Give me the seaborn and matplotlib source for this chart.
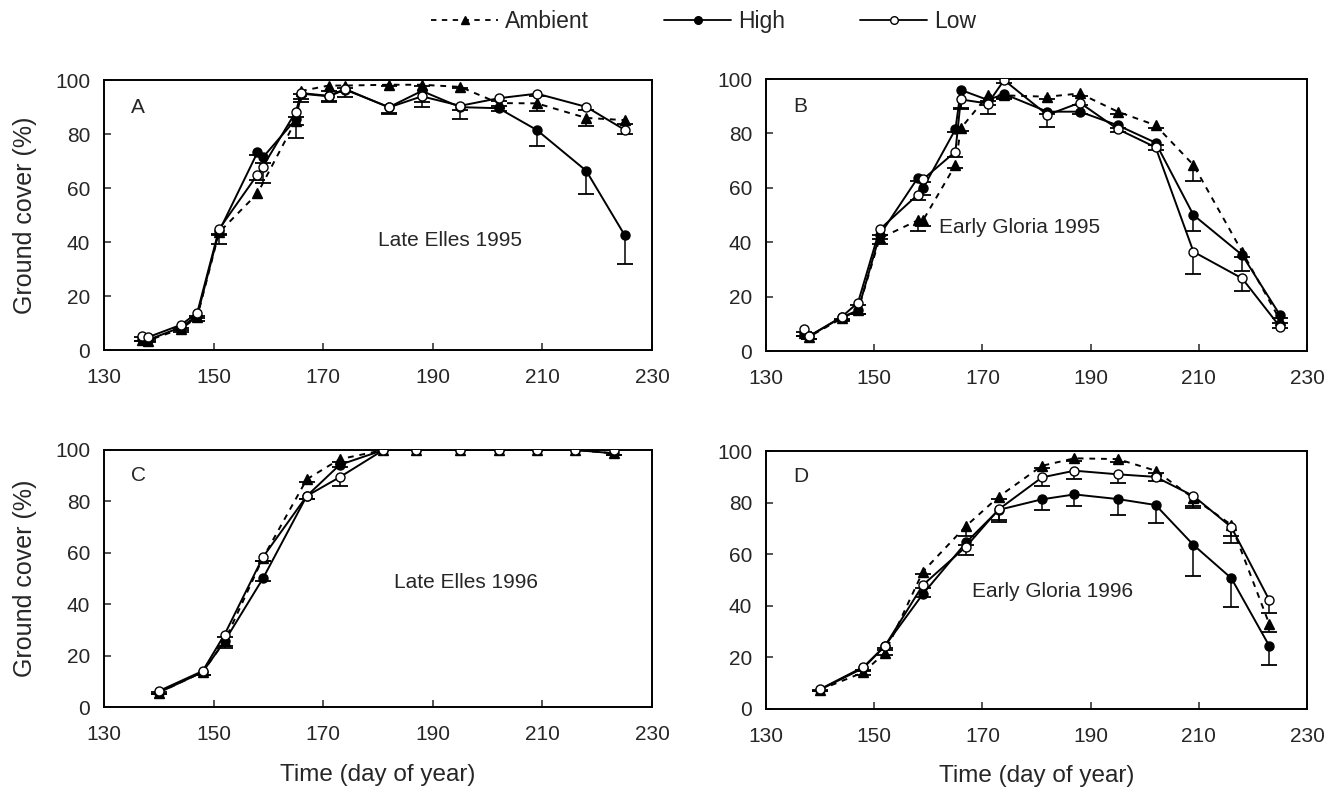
import numpy as np
import pandas as pd
import seaborn as sns
import matplotlib.pyplot as plt
from matplotlib.lines import Line2D

sns.set_style("ticks")
plt.rcParams["font.family"] = ["Liberation Sans", "DejaVu Sans"]

# ---- data ----
days95 = [137, 138, 144, 147, 151, 158, 159, 165, 166, 171, 174, 182, 188, 195, 202, 209, 218, 225]
days95_amb_A = [137, 138, 144, 147, 151, 158, 165, 166, 171, 174, 182, 188, 195, 202, 209, 218, 225]
days96 = [140, 148, 152, 159, 167, 173, 181, 187, 195, 202, 209, 216, 223]

# A: Late Elles 1995
amb_A = [3.7, 3.5, 7.8, 12.1, 43.6, 58, 85, 96, 98, 98, 98.3, 98.3, 97.5, 91.5, 91.4, 86, 85.2]
amb_A_err = [0.5, 0.5, 1, 1.5, 4.5, 0, 6.6, 1, 2, 1, 0.5, 0.5, 0.5, 1, 3, 3, 1.5]
high_A = [4, 3.7, 8.4, 12.7, 44, 73.2, 71.4, 85.5, 95, 94, 96.5, 90, 96, 90, 89.6, 81.5, 66.4, 42.6]
high_A_err = [0.5, 0.5, 1, 1, 1, 1, 2, 2, 3, 2, 1, 2, 6, 1, 1, 6, 8.6, 10.7]
low_A = [5.3, 4.7, 9.3, 13.7, 44.8, 65, 68, 88.3, 95.2, 94.2, 96.7, 89.9, 94, 90.5, 93.3, 95, 90.1, 81.6]
low_A_err = [0.5, 0.5, 1, 1, 2, 2, 6, 2, 2, 2, 3, 2.5, 2, 5, 1, 1, 1, 1.6]

# B: Early Gloria 1995
amb_B = [6.7, 5.3, 12, 15, 41.4, 48, 48, 68.4, 81.9, 94, 94, 93.5, 94.7, 88, 83, 68.4, 36.5, 11.4]
amb_B_err = [1, 1, 1, 1.5, 2, 4, 2, 1, 1, 2, 1, 1, 1, 1, 1, 6, 2, 1]
high_B = [6.7, 5.5, 12.4, 15, 42.6, 63.5, 59.8, 81.5, 96, 92.3, 94.5, 88, 88, 83, 76.6, 50, 35.3, 13.2]
high_B_err = [1, 1, 1, 1.5, 1.5, 1, 2.5, 1, 7, 2, 2, 1, 1, 1, 1, 5.8, 6, 1]
low_B = [8, 5.5, 12.6, 17.8, 44.7, 57.4, 63.1, 73.3, 92.5, 91, 99.6, 86.8, 91.3, 81.6, 74.9, 36.5, 26.7, 8.9]
low_B_err = [1, 1, 1, 1, 2, 2, 1, 2, 3, 4, 1, 4.3, 1, 1, 1, 8.3, 4.5, 0.5]

# C: Late Elles 1996
amb_C = [5.6, 13.6, 25.6, 58, 88.6, 96.4, 100, 100, 100, 100, 100, 100, 98.7]
amb_C_err = [0.5, 1, 2, 1, 1, 1, 0, 0, 0, 0, 0, 0, 0.5]
high_C = [5.6, 13.6, 25.6, 50, 82.1, 94.2, 100, 100, 100, 100, 100, 100, 98.7]
high_C_err = [0.5, 1, 2.5, 1, 1, 1, 0, 0, 0, 0, 0, 0, 0.5]
low_C = [6.2, 14, 28.2, 58.3, 82.1, 89.4, 100, 100, 100, 100, 100, 100, 100]
low_C_err = [0.5, 1.5, 1, 1.5, 1, 3.5, 0, 0, 0, 0, 0, 0, 0]

# D: Early Gloria 1996
amb_D = [7.5, 14.2, 21.9, 53.3, 71, 82.3, 94.3, 97.2, 96.9, 92.4, 81.7, 71.4, 33]
amb_D_err = [0.5, 1, 1, 1, 4, 1, 1, 1, 1, 1, 3.7, 4.4, 3]
high_D = [7.5, 15.9, 24.5, 44.6, 64.6, 77.2, 81.3, 83.2, 81.4, 79.1, 63.6, 50.7, 24.5]
high_D_err = [0.5, 1, 1, 1, 1, 4, 4, 4.5, 6, 7, 12, 11, 7.3]
low_D = [7.7, 16.3, 24.5, 48.1, 63, 77.4, 89.8, 92.4, 91, 90, 82.6, 70.5, 42.3]
low_D_err = [0.5, 1, 1.5, 1, 3.3, 4.8, 3.5, 3.4, 3.5, 1.5, 4, 6, 5]

panels = [
    ("A", "Late Elles 1995", (180, 40.5), (days95_amb_A, amb_A, amb_A_err), (days95, high_A, high_A_err), (days95, low_A, low_A_err)),
    ("B", "Early Gloria 1995", (162, 45.3), (days95, amb_B, amb_B_err), (days95, high_B, high_B_err), (days95, low_B, low_B_err)),
    ("C", "Late Elles 1996", (183, 48.5), (days96, amb_C, amb_C_err), (days96, high_C, high_C_err), (days96, low_C, low_C_err)),
    ("D", "Early Gloria 1996", (168, 45.5), (days96, amb_D, amb_D_err), (days96, high_D, high_D_err), (days96, low_D, low_D_err)),
]

rects = [
    [0.0779, 0.5603, 0.4105, 0.339],
    [0.5738, 0.559, 0.4053, 0.3417],
    [0.0779, 0.1118, 0.4105, 0.3229],
    [0.5738, 0.1093, 0.4053, 0.324],
]

styles = {
    "Ambient": dict(marker="^", markerfacecolor="black", linestyle=(0, (3, 3)), markersize=7),
    "High": dict(marker="o", markerfacecolor="black", linestyle="-", markersize=6.5),
    "Low": dict(marker="o", markerfacecolor="white", linestyle="-", markersize=6.5),
}

fig = plt.figure(figsize=(13.35, 7.96), dpi=100)

for (letter, note, note_pos, amb, high, low), rect in zip(panels, rects):
    ax = fig.add_axes(rect)
    for name, (d, v, e) in zip(["Ambient", "High", "Low"], [amb, high, low]):
        d = np.array(d, dtype=float)
        v = np.array(v, dtype=float)
        e = np.array(e, dtype=float)
        keep = e > 0
        # one-sided (downward) error bars with a cap
        ax.vlines(d[keep], v[keep] - e[keep], v[keep], color="black", lw=1.1, zorder=2)
        ax.plot(d[keep], v[keep] - e[keep], ls="none", marker="_", markersize=11,
                markeredgewidth=1.3, color="black", zorder=2)
        df = pd.DataFrame({"day": d, "cover": v})
        sns.lineplot(data=df, x="day", y="cover", ax=ax, color="black", lw=1.4,
                     markeredgecolor="black", markeredgewidth=1.0, zorder=3,
                     errorbar=None, **styles[name])
    ax.set_xlim(130, 230)
    ax.set_ylim(0, 100)
    ax.set_xticks(np.arange(130, 231, 20))
    ax.set_yticks(np.arange(0, 101, 20))
    ax.tick_params(direction="in", length=5, width=1.1, labelsize=15)
    ax.tick_params(axis="x", pad=13)
    ax.tick_params(axis="y", pad=10)
    for sp in ax.spines.values():
        sp.set_linewidth(1.4)
        sp.set_color("black")
    ax.text(note_pos[0], note_pos[1], note, fontsize=15, va="center", ha="left")
    ax.text(0.05, 0.9, letter, transform=ax.transAxes, fontsize=15, va="center", ha="left")
    if letter in ("A", "C"):
        ax.set_ylabel("Ground cover (%)", fontsize=18, labelpad=13)
    else:
        ax.set_ylabel("")
    if letter in ("C", "D"):
        ax.set_xlabel("Time (day of year)", fontsize=17.5, labelpad=14)
    else:
        ax.set_xlabel("")

handles = [Line2D([], [], color="black", lw=1.3, markeredgecolor="black", **styles[n]) for n in ["Ambient", "High", "Low"]]
for h in handles:
    h.set_markersize(5.5)
fig.legend(handles, ["Ambient", "High", "Low"], loc="center", bbox_to_anchor=(0.527, 0.973),
           ncol=3, frameon=False, fontsize=16.5, handlelength=2.9, handletextpad=0.3,
           columnspacing=3.3)

fig.savefig("out.png", dpi=100)
